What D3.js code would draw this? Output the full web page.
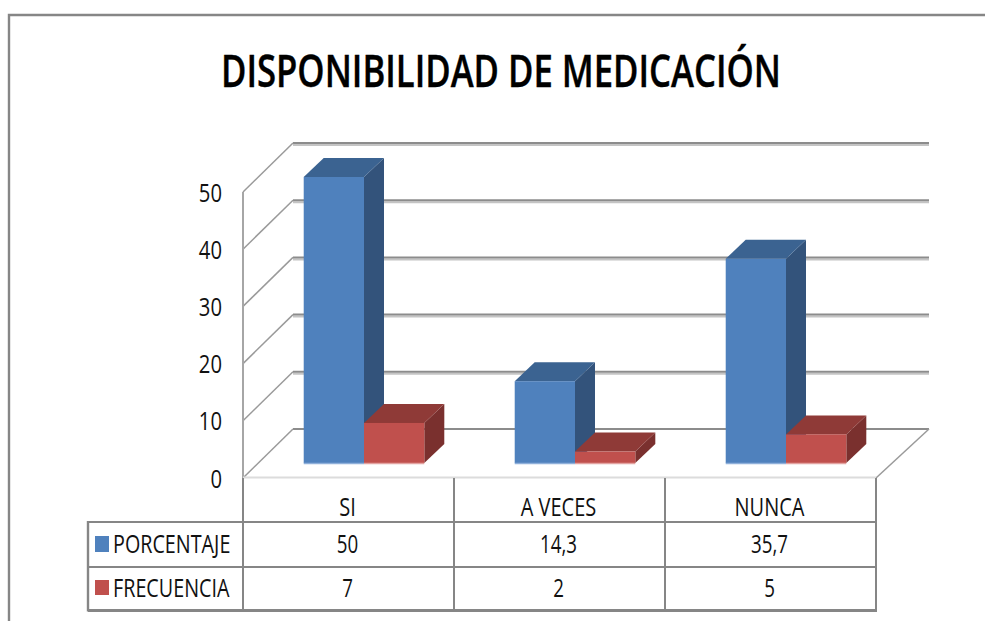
<!DOCTYPE html>
<html lang="es">
<head>
<meta charset="utf-8">
<title>Disponibilidad de medicación</title>
<script src="https://cdnjs.cloudflare.com/ajax/libs/d3/7.8.5/d3.min.js"></script>
<style>
html,body{margin:0;padding:0;background:#fff;overflow:hidden}
svg{display:block}
text{font-family:"Open Sans","Liberation Sans",Arial,sans-serif;fill:#111}
</style>
</head>
<body>
<svg id="chart" width="985" height="621"></svg>
<script>
const titleText = "DISPONIBILIDAD DE MEDICACIÓN";
const categories = ["SI", "A VECES", "NUNCA"];
const porcentaje = [50, 14.3, 35.7];
const frecuencia = [7, 2, 5];
const seriesNames = ["PORCENTAJE", "FRECUENCIA"];
const yTicks = [0, 10, 20, 30, 40, 50];

const seriesValues = [porcentaje, frecuencia];
const palettes = [
  {front: "#4f81bd", side: "#33537b", top: "#3b6391", edge: "#8fb0da"},
  {front: "#c0504d", side: "#7a302e", top: "#8f3a37", edge: "#e3a3a1"}
];

const svg = d3.select("#chart");
const fmt = v => String(v).replace(".", ",");

// layout
const L = {left: 243, right: 876, floorY: 478, topY: 192,
  wallDx: 50, wallDy: 49, wallExtra: 3, barDx: 20, barDy: 19, barShiftX: 15.5, barShiftY: 15,
  tableLeft: 88, rowLines: [522, 567, 610.5]};

const x = d3.scaleBand().domain(categories).range([L.left, L.right]);
const y = d3.scaleLinear().domain([0, 50]).range([L.floorY, L.topY]);
const barW = x.bandwidth() / 3.5;
const barGap = (x.bandwidth() - 2 * barW) / 2;

// outer frame (top and left only, the right and bottom are cropped off)
svg.append("path").attr("d", "M9,621V15H985").attr("fill", "none")
  .attr("stroke", "#868686").attr("stroke-width", 2.4);

// title
svg.append("text").attr("x", 221).attr("y", 87)
  .attr("font-size", 45).attr("font-weight", 600)
  .attr("textLength", 560).attr("lengthAdjust", "spacingAndGlyphs")
  .style("fill", "#000").style("stroke", "#000").style("stroke-width", 0.4).text(titleText);

// walls and gridlines
const walls = svg.append("g");
const gridEnd = L.right + L.wallDx + L.wallExtra;
const backY = v => y(v) - L.wallDy;
walls.selectAll("line.shade").data(yTicks.slice(1)).join("line").attr("class", "shade")
  .attr("x1", L.left + L.wallDx).attr("x2", gridEnd)
  .attr("y1", d => backY(d) + 2).attr("y2", d => backY(d) + 2)
  .attr("stroke", "#c4c4c4").attr("stroke-width", 2);
walls.selectAll("line.grid").data(yTicks).join("line").attr("class", "grid")
  .attr("x1", L.left + L.wallDx).attr("x2", gridEnd)
  .attr("y1", d => backY(d)).attr("y2", d => backY(d))
  .attr("stroke", "#8c8c8c").attr("stroke-width", 2);
walls.selectAll("line.diag").data(yTicks).join("line").attr("class", "diag")
  .attr("x1", L.left).attr("x2", L.left + L.wallDx)
  .attr("y1", d => y(d)).attr("y2", d => backY(d))
  .attr("stroke", "#9a9a9a").attr("stroke-width", 1.5);
walls.append("line").attr("x1", L.left).attr("x2", L.left)
  .attr("y1", y(50)).attr("y2", y(0)).attr("stroke", "#a6a6a6").attr("stroke-width", 2);
walls.append("line").attr("x1", L.right).attr("x2", gridEnd)
  .attr("y1", y(0)).attr("y2", backY(0)).attr("stroke", "#9a9a9a").attr("stroke-width", 1.5);
walls.append("line").attr("x1", L.left).attr("x2", L.right)
  .attr("y1", y(0) - 0.5).attr("y2", y(0) - 0.5).attr("stroke", "#dcdcdc").attr("stroke-width", 2);

// y axis labels
const yAxis = svg.append("g").attr("transform", `translate(${L.left},0)`)
  .call(d3.axisLeft(y).tickValues(yTicks).tickSize(0).tickPadding(21));
yAxis.select(".domain").remove();
yAxis.selectAll("text").attr("font-size", 25)
  .attr("dy", "0.36em");

// bars
const bars = svg.append("g");
categories.forEach((cat, ci) => {
  seriesValues.forEach((vals, si) => {
    const p = palettes[si];
    const x0 = x(cat) + barGap + L.barShiftX + si * barW;
    const x1 = x0 + barW;
    const yb = y(0) - L.barShiftY;
    const yt = y(vals[ci]) - L.barShiftY;
    const g = bars.append("g");
    g.append("path").attr("fill", p.side)
      .attr("d", `M${x1},${yb}L${x1 + L.barDx},${yb - L.barDy}V${yt - L.barDy}L${x1},${yt}Z`);
    g.append("path").attr("fill", p.top)
      .attr("d", `M${x0},${yt}L${x0 + L.barDx},${yt - L.barDy}H${x1 + L.barDx}L${x1},${yt}Z`);
    g.append("rect").attr("x", x0).attr("y", yt).attr("width", barW).attr("height", yb - yt)
      .attr("fill", p.front);
    g.append("line").attr("x1", x0).attr("x2", x1).attr("y1", yb + 0.5).attr("y2", yb + 0.5)
      .attr("stroke", p.edge).attr("stroke-width", 1.5);
  });
});

// data table
const table = svg.append("g");
const stroke = "#868686";
L.rowLines.forEach((ry, i) => {
  table.append("line").attr("x1", L.tableLeft).attr("x2", L.right + 1)
    .attr("y1", ry).attr("y2", ry).attr("stroke", stroke)
    .attr("stroke-width", i === 2 ? 3 : 2);
});
table.append("line").attr("x1", L.tableLeft).attr("x2", L.tableLeft)
  .attr("y1", L.rowLines[0] - 1).attr("y2", L.rowLines[2] + 1).attr("stroke", stroke).attr("stroke-width", 2.4);
const colEdges = [...categories.map(c => x(c)), L.right];
colEdges.forEach(cx => {
  table.append("line").attr("x1", cx).attr("x2", cx)
    .attr("y1", y(0)).attr("y2", L.rowLines[2]).attr("stroke", stroke).attr("stroke-width", 2);
});

function cell(tx, ty, str, anchor, squeeze) {
  const t = table.append("text").attr("x", tx).attr("y", ty).attr("font-size", 25)
    .attr("text-anchor", anchor).text(str);
  const w = t.node().getComputedTextLength();
  t.attr("textLength", w * squeeze).attr("lengthAdjust", "spacingAndGlyphs");
  return t;
}
categories.forEach((c, i) => {
  const cx = x(c) + x.bandwidth() / 2 - 1;
  cell(cx, 515.5, c, "middle", 0.8);
  cell(cx, 553, fmt(porcentaje[i]), "middle", 0.75);
  cell(cx, 597, fmt(frecuencia[i]), "middle", 0.75);
});
seriesNames.forEach((name, i) => {
  const ty = [553, 597][i];
  table.append("rect").attr("x", 95).attr("y", ty - 17).attr("width", 14).attr("height", i ? 15 : 16)
    .attr("fill", palettes[i].front);
  cell(113, ty, name, "start", 0.79);
});
// squeeze axis labels the same way
yAxis.selectAll("text").each(function () {
  const w = this.getComputedTextLength();
  d3.select(this).attr("textLength", w * 0.81).attr("lengthAdjust", "spacingAndGlyphs");
});
</script>
</body>
</html>
